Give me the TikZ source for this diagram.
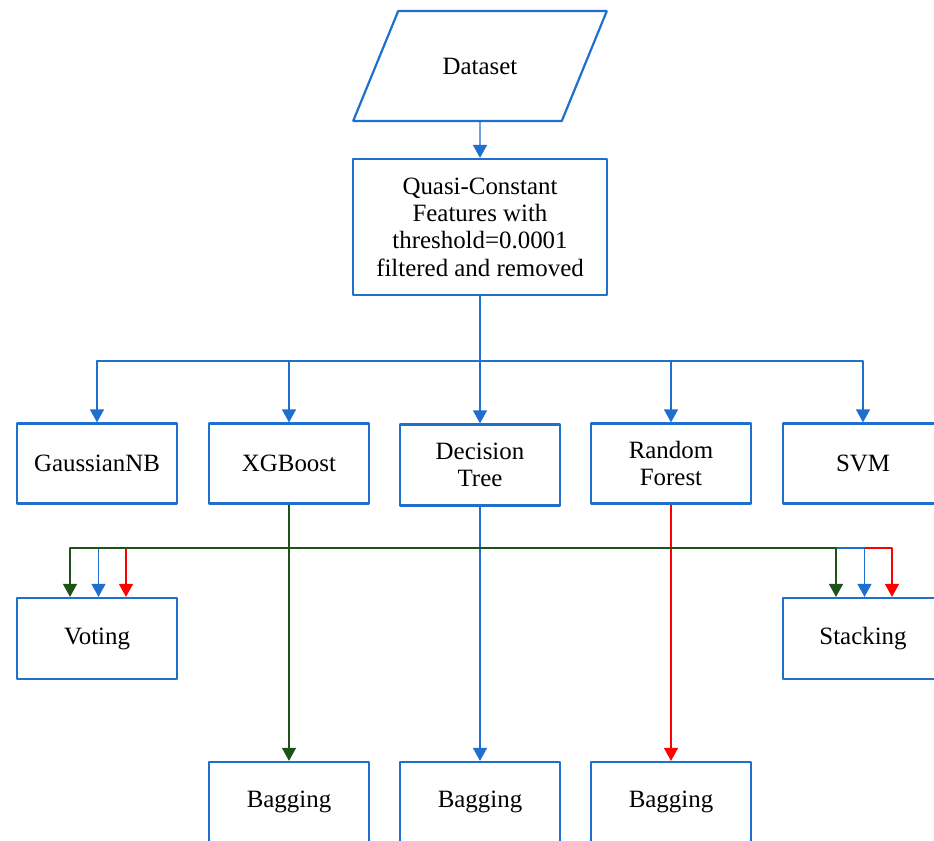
\documentclass[tikz,border=0pt]{standalone}
\usepackage{fontspec}
\setmainfont{Liberation Serif}
\usetikzlibrary{arrows.meta,shapes.geometric}
\definecolor{flowblue}{RGB}{31,111,207}
\definecolor{flowgreen}{RGB}{30,82,24}
\definecolor{flowred}{RGB}{255,0,0}
\tikzset{
  box/.style={draw=flowblue,line width=2.2bp,minimum width=160bp,minimum height=80bp,align=center,inner sep=0pt},
  link/.style={line width=1.3bp,->},
}
\begin{document}
\begin{tikzpicture}[>={Triangle[width=14bp,length=13bp]},line join=bevel,font=\fontsize{25}{27.5}\selectfont]
\useasboundingbox (0bp,0bp) rectangle (934bp,841bp);
\clip (0bp,0bp) rectangle (934bp,841bp);
%%
\node (node_0) at (480bp,775bp) [draw=flowblue,line width=2.2bp,trapezium,trapezium left angle=46,trapezium right angle=134,trapezium stretches=true,minimum width=254bp,minimum height=110bp] {Dataset};
  \node (node_1) at (480bp,614bp) [box,minimum width=254bp,minimum height=136bp] {Quasi-Constant\\Features with\\threshold=0.0001\\filtered and removed};
  \node (node_2) at (97bp,377.5bp) [box] {GaussianNB};
  \node (node_3) at (289bp,377.5bp) [box] {XGBoost};
  \node (node_4) at (480bp,376bp) [box,minimum height=81bp] {Decision\\Tree};
  \node (node_5) at (671bp,377.5bp) [box] {Random\\Forest};
  \node (node_6) at (863bp,377.5bp) [box] {SVM};
  \node (node_7) at (97bp,202.5bp) [box,minimum height=81bp] {Voting};
  \node (node_8) at (863bp,202.5bp) [box,minimum height=81bp] {Stacking};
  \node (node_9) at (289bp,39bp) [box] {Bagging};
  \node (node_10) at (480bp,39bp) [box] {Bagging};
  \node (node_11) at (671bp,39bp) [box] {Bagging};
%
  \draw [flowblue,link] (node_0.south) -- (node_1);
  \draw [flowblue,link] (node_1) -- (node_4);
  \draw [flowblue,link] (node_1.south) -- (480bp,480bp) -| (node_2);
  \draw [flowblue,link] (node_1.south) -- (480bp,480bp) -| (node_3);
  \draw [flowblue,link] (node_1.south) -- (480bp,480bp) -| (node_5);
  \draw [flowblue,link] (node_1.south) -- (480bp,480bp) -| (node_6);
%
  \draw [flowred,link] (node_5) -- (node_11);
  \draw [flowred,link] (node_5.south) -- (671bp,293bp) -| ([xshift=29bp]node_7.north);
  \draw [flowred,link] (node_5.south) -- (671bp,293bp) -| ([xshift=29bp]node_8.north);
  \draw [flowblue,link] (node_4) -- (node_10);
  \draw [flowblue,link] (node_4.south) -- (480bp,293bp) -| ([xshift=1.5bp]node_7.north);
  \draw [flowblue,link] (node_4.south) -- (480bp,293bp) -| ([xshift=1.5bp]node_8.north);
  \draw [flowgreen,link] (node_3) -- (node_9);
  \draw [flowgreen,link] (node_3.south) -- (289bp,293bp) -| ([xshift=-27bp]node_7.north);
  \draw [flowgreen,link] (node_3.south) -- (289bp,293bp) -| ([xshift=-27bp]node_8.north);
%
\end{tikzpicture}
\end{document}
